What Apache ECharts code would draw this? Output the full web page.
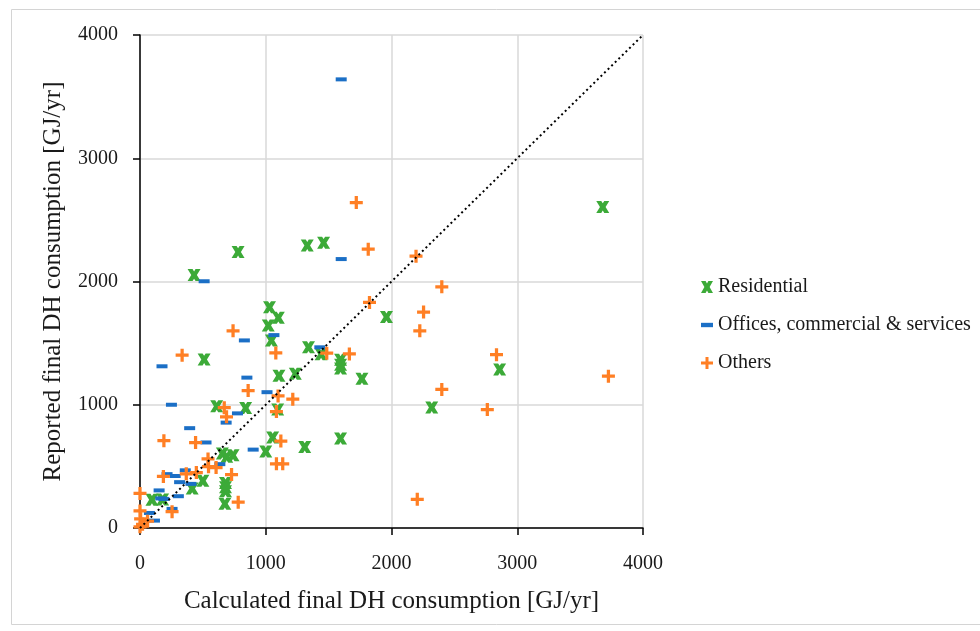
<!DOCTYPE html>
<html><head><meta charset="utf-8">
<script src="https://cdn.jsdelivr.net/npm/echarts@6/dist/echarts.min.js"></script>
<style>html,body{margin:0;padding:0;background:#fff}#c{width:980px;height:631px}</style>
</head><body><div id="c"></div>
<script>
const seriesNames = ['Residential', 'Offices, commercial & services', 'Others'];
const xAxisTitle = 'Calculated final DH consumption [GJ/yr]';
const yAxisTitle = 'Reported final DH consumption [GJ/yr]';
const axisTicks = [0, 1000, 2000, 3000, 4000];

const residentialX = [3680, 430, 780, 1330, 1460, 1030, 1020, 1100, 1045, 1960, 1340, 1440, 1595, 1595, 1595, 510, 1105, 1235, 1765, 2860, 2320, 610, 840, 1095, 1055, 1595, 1310, 1000, 655, 690, 740, 500, 415, 680, 680, 680, 675, 95, 180];
const residentialY = [2605, 2052, 2240, 2292, 2315, 1792, 1642, 1705, 1522, 1712, 1466, 1410, 1365, 1325, 1295, 1368, 1235, 1252, 1210, 1287, 978, 988, 973, 962, 735, 726, 658, 620, 604, 578, 590, 383, 320, 365, 330, 298, 196, 230, 232];

const officesX = [1600, 1600, 510, 1065, 830, 1430, 175, 850, 1010, 250, 775, 685, 395, 525, 900, 635, 215, 280, 360, 315, 405, 152, 165, 190, 305, 255, 75, 115];
const officesY = [3640, 2182, 2002, 1565, 1522, 1466, 1312, 1220, 1102, 1000, 930, 855, 810, 694, 636, 518, 437, 422, 468, 372, 358, 305, 240, 236, 258, 155, 122, 60];

const othersX = [1490, 1720, 1815, 2195, 2400, 1825, 2255, 2225, 740, 335, 1080, 1485, 1665, 2835, 3725, 2400, 860, 1098, 1215, 2762, 670, 1085, 688, 190, 442, 1120, 1085, 1135, 541, 545, 605, 448, 368, 728, 186, 781, 255, 2205, 0, 0, 5, 20, 60, 0];
const othersY = [4005, 2640, 2262, 2205, 1957, 1830, 1752, 1600, 1600, 1402, 1420, 1418, 1412, 1406, 1232, 1124, 1115, 1072, 1045, 961, 976, 945, 902, 708, 693, 705, 521, 521, 560, 497, 490, 450, 440, 434, 418, 209, 132, 233, 280, 138, 75, 30, 55, 10];

const diagX = [0, 4000];
const diagY = [0, 4000];

const zip = (xs, ys) => xs.map((x, i) => [x, ys[i]]);

const FONT = 'Liberation Serif';
const symX = 'path://M0,0 L4.6,0 L6,2.4 L7.4,0 L12,0 L8.6,6 L12,12 L7.4,12 L6,9.6 L4.6,12 L0,12 L3.4,6 Z';
const symPlus = 'path://M4.5,0 H7.5 V4.5 H12 V7.5 H7.5 V12 H4.5 V7.5 H0 V4.5 H4.5 Z';
const symDash = 'path://M0,0 H11 V4 H0 Z';

const chart = echarts.init(document.getElementById('c'), null, {renderer: 'canvas'});
chart.setOption({
  backgroundColor: '#fff',
  animation: false,
  graphic: [{
    type: 'rect', shape: {x: 11.5, y: 9.5, width: 1000, height: 615},
    style: {fill: 'none', stroke: '#d4d4d4', lineWidth: 1}, silent: true, z: -10
  }],
  grid: {left: 140, right: 337, top: 35, bottom: 103, containLabel: false},
  legend: {
    orient: 'vertical', left: 696, top: 272, itemGap: 18, itemWidth: 12, itemHeight: 12,
    textStyle: {fontFamily: FONT, fontSize: 20, color: '#1a1a1a'},
    data: [
      {name: seriesNames[0], icon: symX},
      {name: seriesNames[1], icon: symDash},
      {name: seriesNames[2], icon: symPlus}
    ]
  },
  xAxis: {
    type: 'value', min: axisTicks[0], max: axisTicks[axisTicks.length - 1], interval: 1000,
    name: xAxisTitle, nameLocation: 'middle', nameGap: 61,
    nameTextStyle: {fontFamily: FONT, fontSize: 25, color: '#1a1a1a'},
    axisLine: {show: true, onZero: false, lineStyle: {color: '#000', width: 1.5}},
    axisTick: {show: true, inside: false, length: 7, lineStyle: {color: '#000', width: 1.5}},
    axisLabel: {fontFamily: FONT, fontSize: 20, color: '#1a1a1a', margin: 26, formatter: v => String(v)},
    splitLine: {show: true, lineStyle: {color: '#d9d9d9', width: 1.5}}
  },
  yAxis: {
    type: 'value', min: axisTicks[0], max: axisTicks[axisTicks.length - 1], interval: 1000,
    name: yAxisTitle, nameLocation: 'middle', nameGap: 74,
    nameTextStyle: {fontFamily: FONT, fontSize: 25, color: '#1a1a1a'},
    axisLine: {show: true, onZero: false, lineStyle: {color: '#000', width: 1.5}},
    axisTick: {show: true, inside: false, length: 7, lineStyle: {color: '#000', width: 1.5}},
    axisLabel: {fontFamily: FONT, fontSize: 20, color: '#1a1a1a', margin: 22, formatter: v => String(v)},
    splitLine: {show: true, lineStyle: {color: '#d9d9d9', width: 1.5}}
  },
  series: [
    {name: seriesNames[0], type: 'scatter', data: zip(residentialX, residentialY),
     symbol: symX, symbolSize: [13, 12], itemStyle: {color: '#3caa38', opacity: 1}, z: 2},
    {name: seriesNames[1], type: 'scatter', data: zip(officesX, officesY),
     symbol: 'rect', symbolSize: [11, 4], itemStyle: {color: '#1b6fc6', opacity: 1}, z: 3},
    {name: seriesNames[2], type: 'scatter', data: zip(othersX, othersY),
     symbol: symPlus, symbolSize: 13, itemStyle: {color: '#ff7f24', opacity: 1}, z: 4},
    {name: 'diagonal', type: 'line', data: zip(diagX, diagY), symbol: 'none', silent: true,
     lineStyle: {color: '#000', width: 2, type: [2, 3]}, z: 5}
  ]
});
</script></body></html>
